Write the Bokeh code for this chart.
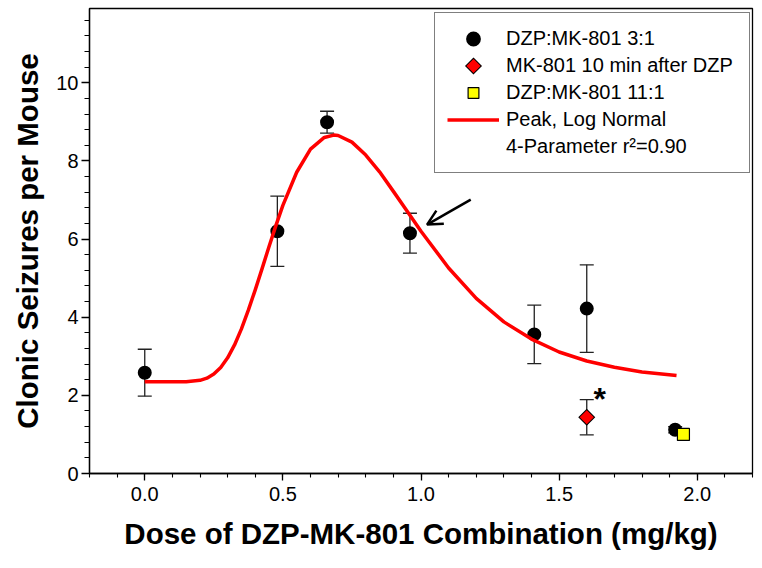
import math
from bokeh.plotting import figure
from bokeh.models import (ColumnDataSource, Whisker, TeeHead, Arrow, OpenHead, Label,
                          Legend, LegendItem, SingleIntervalTicker, PrintfTickFormatter, Range1d)
from bokeh.embed import file_html
from bokeh.resources import INLINE

# ---- data ----
dose_31 = [0.0, 0.48, 0.66, 0.96, 1.41, 1.60, 1.92]
seiz_31 = [2.58, 6.20, 8.99, 6.15, 3.56, 4.22, 1.12]
sem_31 = [0.60, 0.90, 0.28, 0.51, 0.75, 1.12, 0.08]

dose_10min = [1.60]
seiz_10min = [1.44]
sem_10min = [0.45]

dose_111 = [1.95]
seiz_111 = [1.00]

fit_dose = [0.0, 0.05, 0.10, 0.15, 0.20, 0.225, 0.25, 0.275, 0.30, 0.325, 0.35, 0.375,
            0.40, 0.425, 0.45, 0.475, 0.50, 0.55, 0.60, 0.65, 0.684, 0.70, 0.75, 0.80,
            0.85, 0.90, 0.95, 1.00, 1.10, 1.20, 1.30, 1.40, 1.50, 1.60, 1.70, 1.80, 1.925]
fit_seiz = [2.35, 2.35, 2.35, 2.35, 2.385, 2.44, 2.545, 2.715, 2.96, 3.29, 3.70, 4.18,
            4.70, 5.25, 5.81, 6.35, 6.86, 7.71, 8.30, 8.60, 8.66, 8.65, 8.48, 8.15,
            7.72, 7.22, 6.71, 6.20, 5.26, 4.48, 3.88, 3.44, 3.11, 2.88, 2.72, 2.60, 2.51]

legend_labels = ["DZP:MK-801 3:1", "MK-801 10 min after DZP", "DZP:MK-801 11:1",
                 "Peak, Log Normal", "4-Parameter r\u00b2=0.90"]

arrow_from = (1.18, 7.01)
arrow_to = (1.022, 6.37)
star_pos = (1.647, 1.91)

x_title = "Dose of DZP-MK-801 Combination (mg/kg)"
y_title = "Clonic Seizures per Mouse"

FONT = "Liberation Sans"

p = figure(width=762, height=568, output_backend="svg", toolbar_location=None,
           x_range=Range1d(-0.2, 2.2), y_range=Range1d(0, 11.9),
           min_border_left=89, min_border_right=10, min_border_top=8, min_border_bottom=95,
           background_fill_color="white", border_fill_color="white")
p.grid.visible = False
p.outline_line_color = "black"
p.outline_line_width = 1.3

for ax in (p.xaxis[0], p.yaxis[0]):
    ax.axis_line_color = "black"
    ax.axis_line_width = 1.3
    ax.major_tick_line_color = "black"
    ax.minor_tick_line_color = "black"
    ax.major_tick_line_width = 1.3
    ax.minor_tick_line_width = 1.1
    ax.major_tick_in = 0
    ax.minor_tick_in = 0
    ax.major_tick_out = 8
    ax.minor_tick_out = 5
    ax.major_label_text_font = FONT
    ax.major_label_text_font_size = "20px"
    ax.major_label_text_color = "black"
    ax.axis_label_text_font = FONT
    ax.axis_label_text_font_size = "29.5px"
    ax.axis_label_text_font_style = "bold"
    ax.axis_label_text_color = "black"

p.xaxis.major_tick_out = 7
p.xaxis.minor_tick_out = 4
p.xaxis.ticker = SingleIntervalTicker(interval=0.5, num_minor_ticks=5)
p.yaxis.ticker = SingleIntervalTicker(interval=2, num_minor_ticks=5)
p.xaxis.formatter = PrintfTickFormatter(format="%.1f")
p.xaxis.axis_label = x_title
p.yaxis.axis_label = y_title
p.xaxis.major_label_standoff = 6
p.yaxis.major_label_standoff = 3
p.xaxis.axis_label_standoff = 13
p.yaxis.axis_label_standoff = 9

# error bars
src31 = ColumnDataSource(dict(x=dose_31, y=seiz_31,
                              lo=[a - b for a, b in zip(seiz_31, sem_31)],
                              hi=[a + b for a, b in zip(seiz_31, sem_31)]))
src10 = ColumnDataSource(dict(x=dose_10min, y=seiz_10min,
                              lo=[a - b for a, b in zip(seiz_10min, sem_10min)],
                              hi=[a + b for a, b in zip(seiz_10min, sem_10min)]))
for s in (src31, src10):
    w = Whisker(source=s, base="x", upper="hi", lower="lo",
                line_color="#222222", line_width=1.3,
                upper_head=TeeHead(size=14, line_color="#222222", line_width=1.3),
                lower_head=TeeHead(size=14, line_color="#222222", line_width=1.3))
    p.add_layout(w)

r_circ = p.scatter("x", "y", source=src31, marker="circle", size=10,
                   fill_color="black", line_color="black", line_width=4)
# red diamond with thin black rim: black body underneath, red body on top
r_diam_rim = p.ngon("x", "y", source=src10, radius=5.4, radius_units="screen", n=4,
                    fill_color="black", line_color="black", line_width=4.4, line_join="miter")
r_diam = p.ngon("x", "y", source=src10, radius=5.4, radius_units="screen", n=4,
                fill_color="#ff0000", line_color="#ff0000", line_width=2.4, line_join="miter")
r_sq = p.scatter(dose_111, seiz_111, marker="square", size=12,
                 fill_color="#ffff00", line_color="black", line_width=1.2)
r_fit = p.line(fit_dose, fit_seiz, line_color="#ff0000", line_width=3.5, line_join="round")
r_blank = p.line(x=[], y=[], line_alpha=0)

p.add_layout(Arrow(end=OpenHead(size=15, line_width=2.5, line_color="black"),
                   x_start=arrow_from[0], y_start=arrow_from[1],
                   x_end=arrow_to[0], y_end=arrow_to[1],
                   line_width=2.5, line_color="black"))
p.add_layout(Label(x=star_pos[0], y=star_pos[1], text="*", text_font=FONT,
                   text_font_size="32px", text_font_style="bold", text_color="black",
                   text_align="center", text_baseline="middle"))

legend = Legend(items=[
    LegendItem(label=legend_labels[0], renderers=[r_circ]),
    LegendItem(label=legend_labels[1], renderers=[r_diam_rim, r_diam]),
    LegendItem(label=legend_labels[2], renderers=[r_sq]),
    LegendItem(label=legend_labels[3], renderers=[r_fit]),
    LegendItem(label=legend_labels[4], renderers=[r_blank]),
], location=(345, 300))
legend.border_line_color = "black"
legend.border_line_width = 1.3
legend.background_fill_color = "white"
legend.background_fill_alpha = 1
legend.padding = 12
legend.spacing = 0
legend.glyph_height = 27
legend.glyph_width = 52
legend.label_standoff = 7
legend.label_height = 27
legend.label_width = 231
legend.margin = 0
legend.label_text_font = FONT
legend.label_text_font_size = "20px"
legend.label_text_color = "black"
p.add_layout(legend)

open("out.html", "w").write(file_html(p, INLINE))
